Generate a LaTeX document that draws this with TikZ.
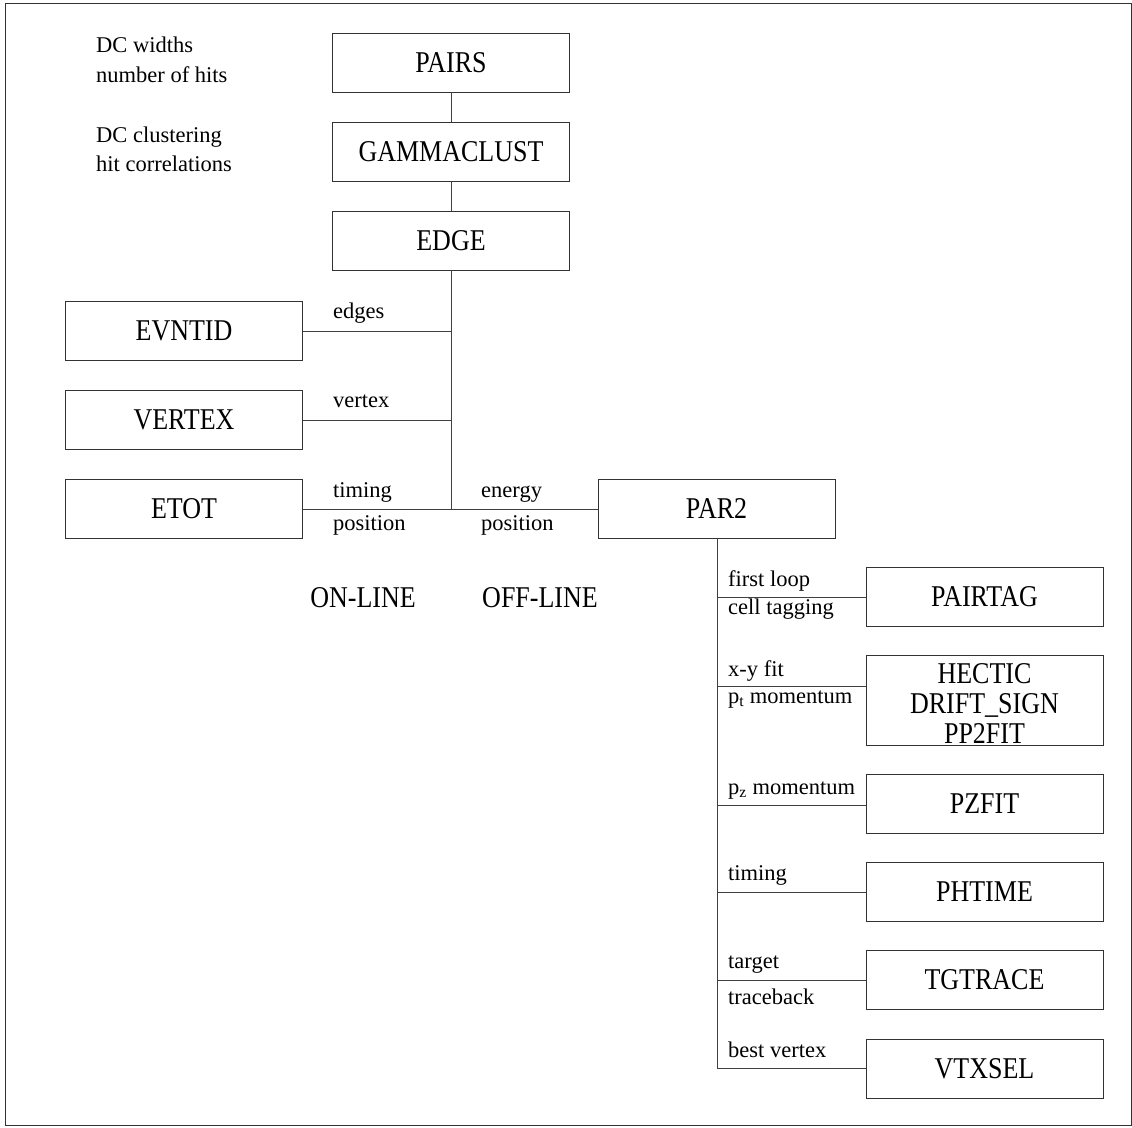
\documentclass[tikz,border=0pt]{standalone}
\usepackage{graphicx}
\usepackage{fontspec}
\setmainfont{Liberation Serif}
\newcommand{\bx}[1]{\scalebox{1}[1.16]{#1}}
\begin{document}
\begin{tikzpicture}[x=1pt,y=-1pt,
  boxnode/.style={draw=black!80,line width=0.9pt,minimum width=237pt,minimum height=59pt,inner sep=0pt,
    font=\fontsize{26}{30}\selectfont},
  lbl/.style={anchor=base west,inner sep=0pt,font=\fontsize{22.5}{26}\selectfont},
  big/.style={anchor=base,inner sep=0pt,font=\fontsize{26}{30}\selectfont},
  conn/.style={draw=black!75,line width=0.9pt}]
\useasboundingbox (0,0) rectangle (1132,1127);
\draw[black!80,line width=1pt] (5,3) rectangle (1131,1125);
% top column
\node[boxnode] (pairs) at (451,62.5) {\bx{PAIRS}};
\node[boxnode] (gamma) at (451,151.5) {\bx{GAMMACLUST}};
\node[boxnode] (edge) at (451,240.5) {\bx{EDGE}};
\node[boxnode] (evntid) at (184,330.5) {\bx{EVNTID}};
\node[boxnode] (vertex) at (184,419.5) {\bx{VERTEX}};
\node[boxnode] (etot) at (184,508.5) {\bx{ETOT}};
\node[boxnode] (par2) at (716.5,508.5) {\bx{PAR2}};
\coordinate (j1) at (451,331);
\coordinate (j2) at (451,420);
\coordinate (j3) at (451,509);
\draw[conn] (pairs.south) -- (gamma.north);
\draw[conn] (gamma.south) -- (edge.north);
\draw[conn] (edge.south) -- (j3);
\draw[conn] (evntid.east |- j1) -- (j1);
\draw[conn] (vertex.east |- j2) -- (j2);
\draw[conn] (etot.east |- j3) -- (par2.west |- j3);
% labels
\node[lbl] (l1) at (96,52) {DC widths};
\node[lbl] (l2) at (96,82) {number of hits};
\node[lbl] (l3) at (96,142) {DC clustering};
\node[lbl] (l4) at (96,171) {hit correlations};
\node[lbl] (l5) at (333,318) {edges};
\node[lbl] (l6) at (333,407) {vertex};
\node[lbl] (l7) at (333,497) {timing};
\node[lbl] (l8) at (333,530) {position};
\node[lbl] (l9) at (481,497) {energy};
\node[lbl] (l10) at (481,530) {position};
\node[big] (online) at (363,607) {\bx{ON-LINE}};
\node[big] (offline) at (540,607) {\bx{OFF-LINE}};
% right branch
\node[boxnode] (pairtag) at (984.5,596.5) {\bx{PAIRTAG}};
\node[boxnode,minimum height=90pt] (hectic) at (984.5,700) {};
\node[big] (hectic1) at (984.5,683) {\bx{HECTIC}};
\node[big] (hectic2) at (984.5,713) {\bx{DRIFT\_SIGN}};
\node[big] (hectic3) at (984.5,743) {\bx{PP2FIT}};
\node[boxnode] (pzfit) at (984.5,804) {\bx{PZFIT}};
\node[boxnode] (phtime) at (984.5,891.5) {\bx{PHTIME}};
\node[boxnode] (tgtrace) at (984.5,980) {\bx{TGTRACE}};
\node[boxnode] (vtxsel) at (984.5,1068.5) {\bx{VTXSEL}};
\coordinate (r1) at (717,597);
\coordinate (r2) at (717,686);
\coordinate (r3) at (717,805);
\coordinate (r4) at (717,892);
\coordinate (r5) at (717,980);
\coordinate (r6) at (717,1068);
\draw[conn] (par2.south -| r6) -- (r6);
\draw[conn] (r1) -- (pairtag.west |- r1);
\draw[conn] (r2) -- (hectic.west |- r2);
\draw[conn] (r3) -- (pzfit.west |- r3);
\draw[conn] (r4) -- (phtime.west |- r4);
\draw[conn] (r5) -- (tgtrace.west |- r5);
\draw[conn] (r6) -- (vtxsel.west |- r6);
\node[lbl] (m1) at (728,586) {first loop};
\node[lbl] (m2) at (728,614) {cell tagging};
\node[lbl] (m3) at (728,676) {x-y fit};
\node[lbl] (m4) at (728,703) {p\textsubscript{t} momentum};
\node[lbl] (m5) at (728,794) {p\textsubscript{z} momentum};
\node[lbl] (m6) at (728,880) {timing};
\node[lbl] (m7) at (728,968) {target};
\node[lbl] (m8) at (728,1004) {traceback};
\node[lbl] (m9) at (728,1057) {best vertex};
\end{tikzpicture}
\end{document}
